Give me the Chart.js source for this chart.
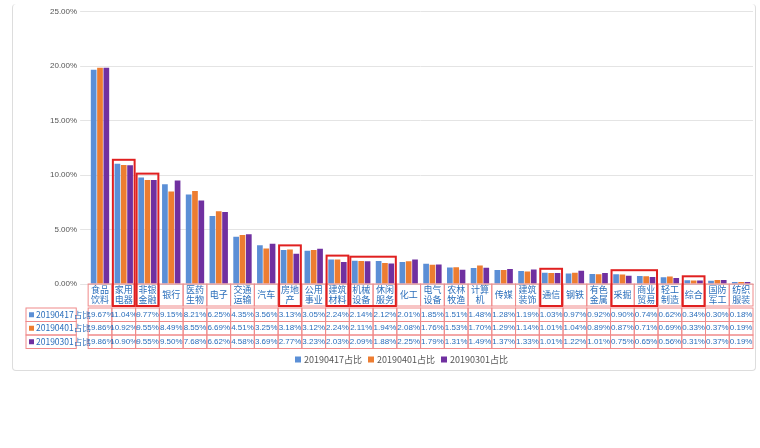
<!DOCTYPE html>
<html><head><meta charset="utf-8">
<script src="https://cdn.jsdelivr.net/npm/chart.js@4.4.1/dist/chart.umd.min.js"></script>
<style>
body{margin:0;background:#fff;font-family:"Noto Sans CJK SC",sans-serif}
#wrap{position:absolute;left:12px;top:4px;width:742px;height:366px;border:1px solid #ddd;border-top:none;border-radius:4px}
</style></head><body>
<div id="wrap"><canvas id="c"></canvas></div>
<script>
const categories = ['食品饮料','家用电器','非银金融','银行','医药生物','电子','交通运输','汽车','房地产','公用事业','建筑材料','机械设备','休闲服务','化工','电气设备','农林牧渔','计算机','传媒','建筑装饰','通信','钢铁','有色金属','采掘','商业贸易','轻工制造','综合','国防军工','纺织服装'];
const seriesNames = ['20190417占比','20190401占比','20190301占比'];
const s0417 = [19.67,11.04,9.77,9.15,8.21,6.25,4.35,3.56,3.13,3.05,2.24,2.14,2.12,2.01,1.85,1.51,1.48,1.28,1.19,1.03,0.97,0.92,0.90,0.74,0.62,0.34,0.30,0.18];
const s0401 = [19.86,10.92,9.55,8.49,8.55,6.69,4.51,3.25,3.18,3.12,2.24,2.11,1.94,2.08,1.76,1.53,1.70,1.29,1.14,1.01,1.04,0.89,0.87,0.71,0.69,0.33,0.37,0.19];
const s0301 = [19.86,10.90,9.55,9.50,7.68,6.62,4.58,3.69,2.77,3.23,2.03,2.09,1.88,2.25,1.79,1.31,1.49,1.37,1.33,1.01,1.22,1.01,0.75,0.65,0.56,0.31,0.37,0.19];
const yTicks = [0,5,10,15,20,25];
const colors = ['#5b8fd6','#ed7d31','#7030a0'];
// highlighted category groups [first, last]
const boxes = [[1,1],[2,2],[8,8],[10,10],[11,12],[19,19],[22,23],[25,25]];

function splitLabel(s){ return s.length>2 ? [s.slice(0,2),s.slice(2)] : [s]; }

const tablePlugin = {
  id:'table',
  afterDraw(chart){
    const ctx = chart.ctx, x = chart.scales.x, y = chart.scales.y;
    const top = y.bottom, hdrH = 22, rowH = 13.5;
    const left = 13, w = x.getPixelForValue(1)-x.getPixelForValue(0);
    const data = [s0417,s0401,s0301];
    ctx.save();
    ctx.strokeStyle = '#f08a8a'; ctx.lineWidth = 1;
    ctx.font = '9px "Noto Sans CJK SC"'; ctx.textAlign='center'; ctx.textBaseline='middle';
    categories.forEach((c,i)=>{
      const cx = x.getPixelForValue(i), x0 = cx-w/2;
      ctx.strokeRect(x0, top, w, hdrH);
      ctx.fillStyle = '#2a6ebb';
      const l = splitLabel(c);
      if(l.length===1) ctx.fillText(l[0], cx, top+hdrH/2);
      else { ctx.fillText(l[0], cx, top+6); ctx.fillText(l[1], cx, top+16); }
    });
    const t0 = top+hdrH+2;
    data.forEach((d,r)=>{
      const ry = t0 + r*rowH;
      ctx.strokeRect(left, ry, x.left-w/2-left, rowH);
      ctx.fillStyle = colors[r]; ctx.fillRect(left+3, ry+rowH/2-2.5, 5, 5);
      ctx.fillStyle = '#2a6ebb'; ctx.textAlign='left';
      ctx.font = '8.5px "Noto Sans CJK SC"';
      ctx.fillText(seriesNames[r], left+10, ry+rowH/2);
      ctx.textAlign='center'; ctx.font = '8px "Liberation Sans"';
      d.forEach((v,i)=>{
        const cx = x.getPixelForValue(i);
        ctx.strokeRect(cx-w/2, ry, w, rowH);
        ctx.fillText(v.toFixed(2)+'%', cx, ry+rowH/2);
      });
    });
    ctx.strokeStyle = '#e02020'; ctx.lineWidth = 2;
    boxes.forEach(([a,b])=>{
      const x0 = x.getPixelForValue(a)-w/2+1, x1 = x.getPixelForValue(b)+w/2-1;
      const yTop = y.getPixelForValue(Math.max(...s0417.slice(a,b+1),...s0401.slice(a,b+1),...s0301.slice(a,b+1)))-4;
      ctx.strokeRect(x0, yTop, x1-x0, top+hdrH-yTop);
    });
    const ly = t0 + 3*rowH + 11;
    let lx = 282;
    ctx.font = '9px "Noto Sans CJK SC"'; ctx.textAlign='left';
    seriesNames.forEach((n,i)=>{
      ctx.fillStyle = colors[i]; ctx.fillRect(lx, ly-3, 6, 6);
      ctx.fillStyle = '#555'; ctx.fillText(n, lx+9, ly);
      lx += 73;
    });
    ctx.restore();
  }
};

new Chart(document.getElementById('c'), {
  type:'bar',
  data:{
    labels: categories,
    datasets: [s0417,s0401,s0301].map((d,i)=>({label:seriesNames[i], data:d, backgroundColor:colors[i], barPercentage:0.9, categoryPercentage:0.8}))
  },
  options:{
    responsive:true, maintainAspectRatio:false, animation:false,
    layout:{padding:{left:34, right:2, top:4, bottom:78}},
    plugins:{legend:{display:false}, tooltip:{enabled:false}},
    scales:{
      x:{grid:{display:false}, border:{color:'#d0d0d0'}, ticks:{display:false}},
      y:{min:0, max:25, afterBuildTicks(ax){ax.ticks = yTicks.map(v=>({value:v}));},
         grid:{color:'#e4e4e4'}, border:{display:false},
         ticks:{color:'#555', font:{size:8, family:'Liberation Sans'}, callback:v=>v.toFixed(2)+'%'}}
    }
  },
  plugins:[tablePlugin]
});
</script>
</body></html>
